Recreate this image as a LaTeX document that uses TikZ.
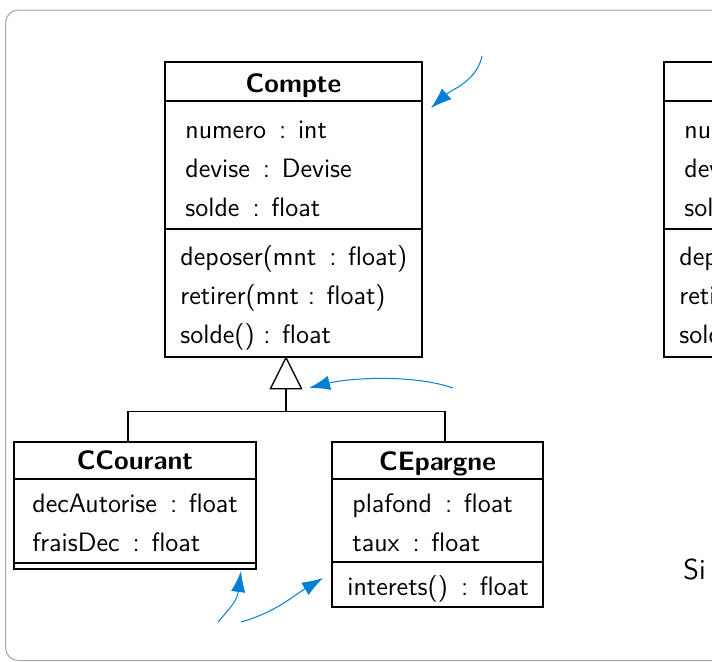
\documentclass[tikz,border=0pt]{standalone}
\usepackage{fontspec}
\usepackage{xcolor}
\usepackage{tikz}
\usetikzlibrary{arrows.meta}
\renewcommand{\familydefault}{\sfdefault}
\newcommand{\umlfont}{\fontsize{13.3}{16}\selectfont}
\definecolor{remarkblue}{RGB}{0,128,210}
\definecolor{framegray}{RGB}{165,165,165}

\begin{document}
\begin{tikzpicture}[x=0.5pt,y=-0.5pt,
    classbox/.style={draw,line width=0.65pt,inner sep=0pt},
    member/.style={anchor=base west,inner sep=0pt,font=\umlfont},
    classname/.style={anchor=base,inner sep=0pt,font=\umlfont\bfseries},
    remark/.style={draw=remarkblue,line width=0.5pt,-{Latex[length=10.5pt,width=7.2pt]}}]
  \useasboundingbox (0,0) rectangle (712,661);
  \clip (0,0) rectangle (712,661);
  \draw[framegray,line width=0.5pt,rounded corners=6.5pt] (5.5,10) rectangle (760,660.5);

  % class Compte
  \node[classbox,minimum width=128.5pt,minimum height=19.5pt] (compte-name) at (293.5,81.5) {};
  \node[classbox,minimum width=128.5pt,minimum height=64pt] (compte-attr) at (293.5,165) {};
  \node[classbox,minimum width=128.5pt,minimum height=64pt] (compte-ops) at (293.5,293) {};
  \node[classname] (compte) at (293.5,92) {Compte};
  \node[member] (numero) at (185,138) {numero\, : int};
  \node[member] (devise) at (185,177) {devise\, : Devise};
  \node[member] (solde) at (185,216) {solde\, : float};
  \node[member] (deposer) at (180,265) {deposer(mnt\, : float)};
  \node[member] (retirer) at (180,304) {retirer(mnt : float)};
  \node[member] (soldeop) at (180,343) {solde() : float};

  % class CCourant
  \node[classbox,minimum width=121pt,minimum height=18.5pt] (ccourant-name) at (135,460.5) {};
  \node[classbox,minimum width=121pt,minimum height=42pt] (ccourant-attr) at (135,521) {};
  \node[classbox,minimum width=121pt,minimum height=3pt] (ccourant-ops) at (135,566) {};
  \node[classname] (ccourant) at (135,469) {CCourant};
  \node[member] (decautorise) at (32,512) {decAutorise\, : float};
  \node[member] (fraisdec) at (32,551) {fraisDec\, : float};

  % class CEpargne
  \node[classbox,minimum width=105.5pt,minimum height=18.5pt] (cepargne-name) at (437.5,460.5) {};
  \node[classbox,minimum width=105.5pt,minimum height=41.5pt] (cepargne-attr) at (437.5,520.5) {};
  \node[classbox,minimum width=105.5pt,minimum height=22.5pt] (cepargne-ops) at (437.5,584.5) {};
  \node[classname] (cepargne) at (437.5,470) {CEpargne};
  \node[member] (plafond) at (352,512) {plafond\, : float};
  \node[member] (taux) at (352,551) {taux\, : float};
  \node[member] (interets) at (347,595) {interets()\, : float};

  % inheritance
  \coordinate (apex) at ([xshift=-3.75pt]compte-ops.south);
  \draw[line width=0.65pt,fill=white] (apex) -- ++(15.5,31) -- ++(-31,0) -- cycle;
  \coordinate (tribase) at ([yshift=-15.5pt]apex);
  \draw[line width=0.65pt] (tribase) -- ++(0,23) coordinate (fork);
  \draw[line width=0.65pt] ([xshift=-3.5pt]ccourant-name.north) |- (fork) -| ([xshift=3.75pt]cepargne-name.north);

  % second copy, cut by the frame
  \node[classbox,minimum width=128.5pt,minimum height=19.5pt] (copy-name) at (792.5,81.5) {};
  \node[classbox,minimum width=128.5pt,minimum height=64pt] (copy-attr) at (792.5,165) {};
  \node[classbox,minimum width=128.5pt,minimum height=64pt] (copy-ops) at (792.5,293) {};
  \node[member] (numero2) at (684,138) {numero\, : int};
  \node[member] (devise2) at (684,177) {devise\, : Devise};
  \node[member] (solde2) at (684,216) {solde\, : float};
  \node[member] (deposer2) at (679,265) {deposer(mnt\, : float)};
  \node[member] (retirer2) at (679,304) {retirer(mnt : float)};
  \node[member] (soldeop2) at (679,343) {solde() : float};

  \node[anchor=base west,inner sep=0pt,font=\Large] (si) at (683,579) {Si};

  % blue arrows
  \coordinate (tail1) at (482,56);   \coordinate (tip1) at (431,108);
  \coordinate (tail2) at (453,388);  \coordinate (tip2) at (309,388);
  \coordinate (tail3) at (218,622);  \coordinate (tip3) at (241,571);
  \coordinate (tail4) at (241,622);  \coordinate (tip4) at (323,578);
  \draw[remark] (tail1) .. controls +(-5,25) and +(20,-18) .. (tip1);
  \draw[remark] (tail2) .. controls +(-40,-14) and +(40,-10) .. (tip2);
  \draw[remark] (tail3) .. controls +(12,-14) and +(-4,30) .. (tip3);
  \draw[remark] (tail4) .. controls +(35,-10) and +(-30,18) .. (tip4);
\end{tikzpicture}
\end{document}
